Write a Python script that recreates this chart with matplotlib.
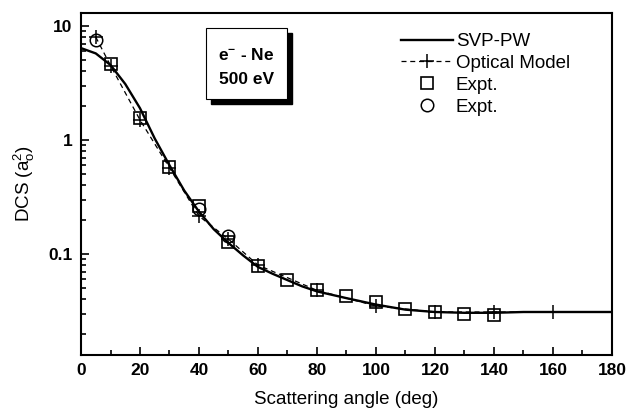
import matplotlib
matplotlib.use("Agg")
import matplotlib.pyplot as plt
from matplotlib.patches import Rectangle

plt.rcParams['font.family'] = ['Liberation Sans', 'DejaVu Sans']
plt.rcParams['mathtext.fontset'] = 'custom'
plt.rcParams['mathtext.rm'] = 'Liberation Sans'
plt.rcParams['mathtext.it'] = 'Liberation Sans'
plt.rcParams['mathtext.bf'] = 'Liberation Sans:bold'

# SVP-PW (solid curve)
svp_angle = [0, 5, 10, 15, 20, 25, 30, 35, 40, 45, 50, 55, 60, 65, 70, 75, 80, 90,
             100, 110, 120, 130, 140, 150, 160, 170, 180]
svp_dcs = [6.4, 5.75, 4.55, 3.1, 1.9, 1.03, 0.6, 0.36, 0.235, 0.165, 0.125, 0.097,
           0.077, 0.067, 0.059, 0.052, 0.047, 0.041, 0.036, 0.0325, 0.031, 0.0305,
           0.0305, 0.031, 0.031, 0.031, 0.031]

# Optical model (dashed + crosses)
opt_angle = [5, 10, 20, 30, 40, 50, 60, 80, 100, 120, 140, 160, 180]
opt_dcs = [8.0, 4.5, 1.5, 0.57, 0.215, 0.135, 0.08, 0.048, 0.035, 0.031, 0.031, 0.031, 0.031]

# Expt. (squares)
sq_angle = [10, 20, 30, 40, 50, 60, 70, 80, 90, 100, 110, 120, 130, 140]
sq_dcs = [4.6, 1.57, 0.58, 0.262, 0.128, 0.078, 0.0595, 0.048, 0.0425, 0.038,
          0.033, 0.0307, 0.0298, 0.0289]

# Expt. (circles)
ci_angle = [5, 40, 50]
ci_dcs = [7.6, 0.248, 0.143]

fig = plt.figure(figsize=(6.26, 4.12), dpi=100)
ax = fig.add_axes([0.1294, 0.1383, 0.8482, 0.8301])

ax.plot(svp_angle, svp_dcs, '-', color='black', lw=1.7, label='SVP-PW')
ax.plot(opt_angle, opt_dcs, '--', color='black', lw=0.9, marker='+', ms=10,
        mew=1.1, label='Optical Model', dashes=(4, 3))
ax.plot(sq_angle, sq_dcs, 's', ms=9, mfc='none', mec='black', mew=1.2, label='Expt.')
ax.plot(ci_angle, ci_dcs, 'o', ms=9, mfc='none', mec='black', mew=1.1, label='Expt.')

ax.set_yscale('log')
ax.set_xlim(0, 180)
ax.set_ylim(0.013, 13)
ax.set_xticks(range(0, 181, 20))
ax.set_xticks(range(10, 180, 20), minor=True)
ax.set_yticks([0.1, 1, 10])
ax.set_yticklabels(['0.1', '1', '10'])
ax.tick_params(which='both', direction='in', width=1.2, labelsize=12.5, pad=6)
ax.tick_params(which='major', length=6)
ax.tick_params(which='minor', length=3.5)
for lab in ax.get_xticklabels() + ax.get_yticklabels():
    lab.set_fontweight('bold')
for s in ax.spines.values():
    s.set_linewidth(1.5)

ax.set_xlabel('Scattering angle (deg)', fontsize=13.5, labelpad=9)
ax.set_ylabel(r'DCS (a$_\mathregular{o}^\mathregular{2}$)', fontsize=13.5, labelpad=8)

leg = ax.legend(loc='upper left', bbox_to_anchor=(0.577, 0.98), frameon=False,
                fontsize=13.5, handlelength=2.8, labelspacing=0.25, handletextpad=0.15,
                borderpad=0.2)

# inset label box with shadow
bx0, by0, bx1, by1 = 206, 28, 287, 99
fig.patches.append(Rectangle(((bx0 + 5) / 626, 1 - (by1 + 5) / 412),
                             (bx1 - bx0) / 626, (by1 - by0) / 412,
                             transform=fig.transFigure, facecolor='black',
                             edgecolor='black', zorder=5))
fig.patches.append(Rectangle((bx0 / 626, 1 - by1 / 412),
                             (bx1 - bx0) / 626, (by1 - by0) / 412,
                             transform=fig.transFigure, facecolor='white',
                             edgecolor='black', lw=0.8, zorder=6))
fig.text(246.5 / 626, 1 - 55 / 412, r'e$^{\mathbf{-}}$ - Ne', ha='center', va='center',
         fontsize=12.5, fontweight='bold', zorder=7)
fig.text(246.5 / 626, 1 - 80 / 412, '500 eV', ha='center', va='center',
         fontsize=12.5, fontweight='bold', zorder=7)

fig.savefig('out.png', dpi=100)
